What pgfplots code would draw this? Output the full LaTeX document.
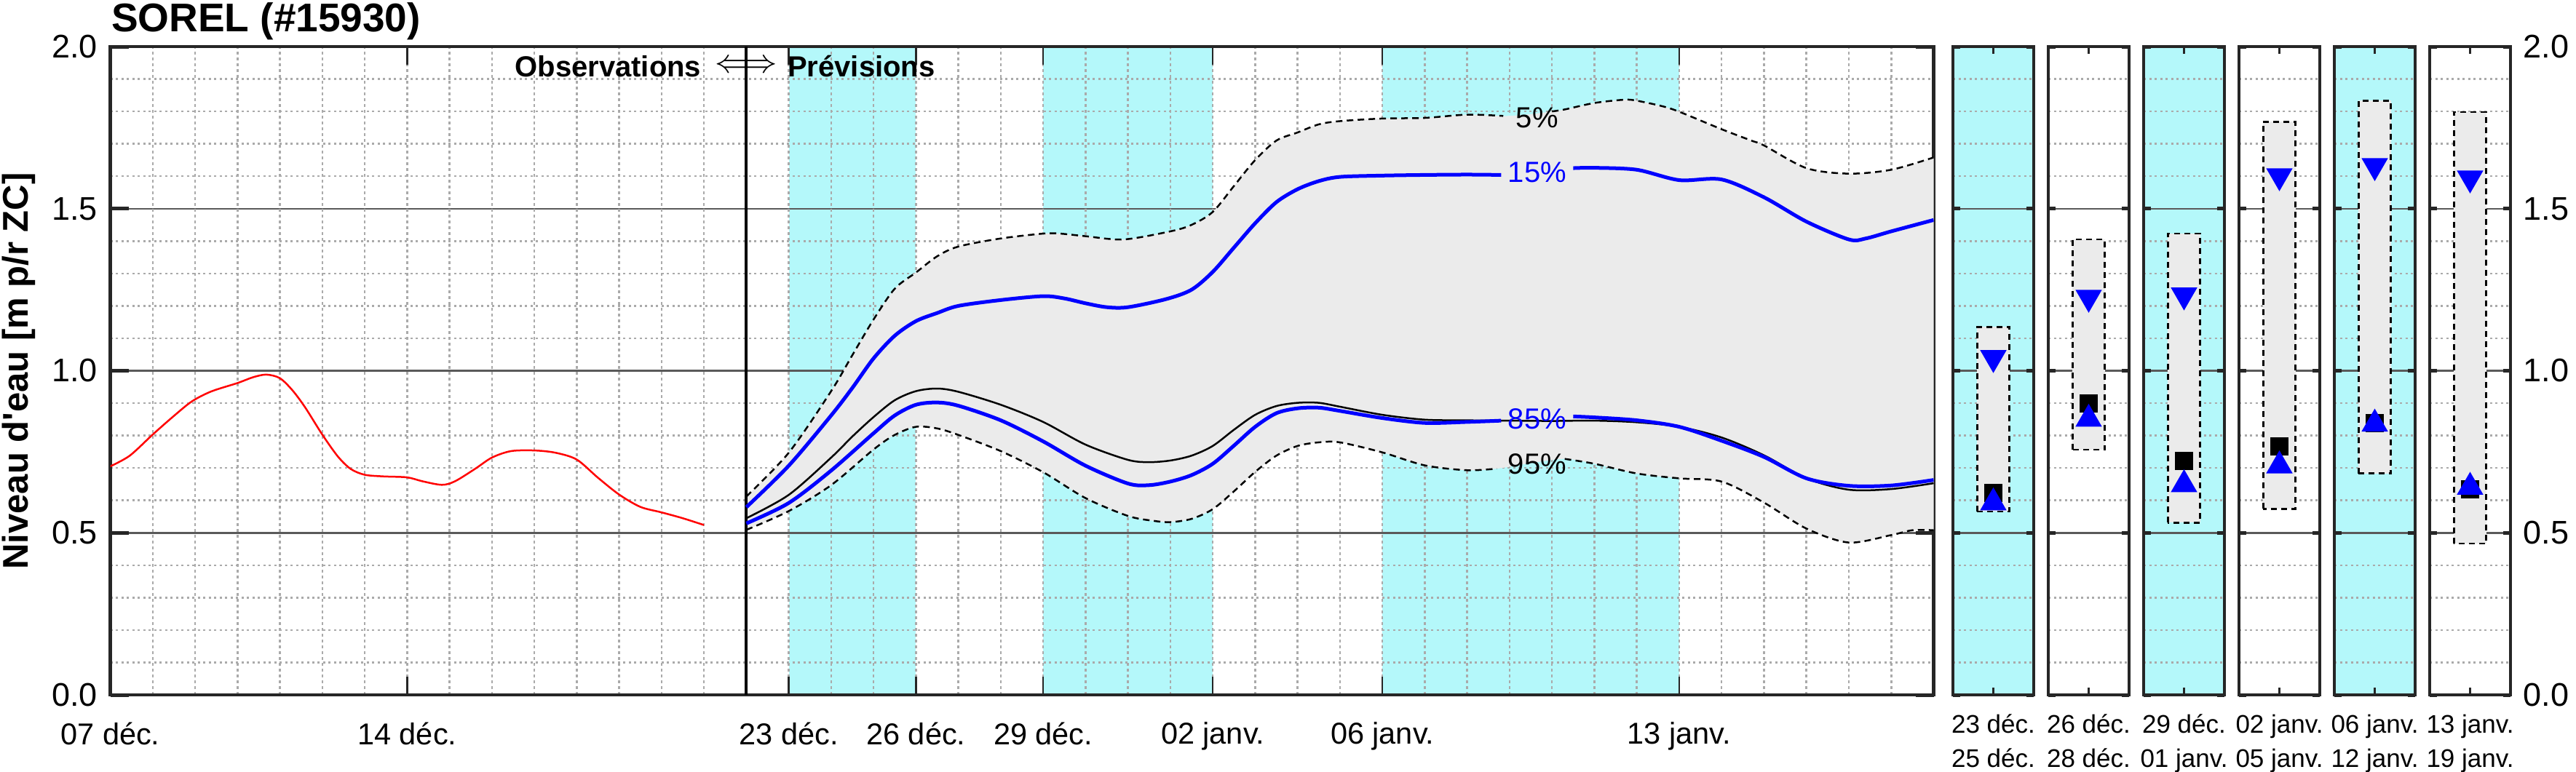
\documentclass[border=0pt]{standalone}
\usepackage{fontspec}
\setmainfont{Liberation Sans}
\newfontfamily\lsans{Liberation Sans}
\usepackage{pgfplots}
\pgfplotsset{compat=1.18}
\usepackage{pgfplotstable}
\usepgfplotslibrary{fillbetween}

\definecolor{cyanband}{RGB}{180,248,250}
\definecolor{bandgray}{RGB}{235,235,235}
\definecolor{framec}{RGB}{38,38,38}
\definecolor{gridc}{RGB}{170,170,170}
\definecolor{majgrid}{RGB}{90,90,90}
\definecolor{qblue}{RGB}{0,0,255}
\definecolor{obsred}{RGB}{255,0,0}

\pgfplotstableread{
d v
0 0.705
0.46 0.738
1 0.803
1.46 0.856
1.92 0.905
2.38 0.936
3 0.962
3.37 0.980
3.68 0.988
4 0.977
4.3 0.939
4.6 0.886
5 0.803
5.37 0.735
5.67 0.697
6 0.679
6.44 0.674
7 0.671
7.36 0.659
7.82 0.648
8.13 0.659
8.6 0.697
9 0.732
9.45 0.752
10 0.754
10.5 0.747
11 0.726
11.5 0.670
12 0.618
12.5 0.580
13 0.563
13.5 0.545
14 0.524
}\obs

\pgfplotstableread{
d v
15 0.612
16 0.747
17 0.937
17.5 1.048
18 1.158
18.5 1.253
19 1.303
19.5 1.353
20 1.383
21 1.408
22 1.423
22.4 1.423
23 1.415
23.9 1.405
25 1.430
25.5 1.450
26 1.490
26.5 1.570
27 1.650
27.5 1.710
28 1.735
28.5 1.760
29 1.770
30 1.778
31 1.780
32 1.790
32.85 1.786
33.4 1.790
34 1.800
34.3 1.806
35 1.826
35.7 1.836
36 1.833
36.6 1.816
37 1.799
38 1.745
38.7 1.710
39 1.695
40 1.625
41 1.608
42 1.620
43 1.658
}\qa

\pgfplotstableread{
d v
15 0.579
16 0.707
17 0.862
17.5 0.947
18 1.038
18.5 1.108
19 1.153
19.5 1.178
20 1.200
21 1.218
22 1.230
22.5 1.223
23 1.208
23.5 1.196
24 1.196
24.9 1.221
25.5 1.250
26 1.305
26.5 1.380
27 1.455
27.5 1.520
28 1.560
28.5 1.585
29 1.598
30 1.602
31 1.604
32 1.605
32.8 1.604
33.6 1.614
34.5 1.625
35 1.626
36 1.620
37 1.588
38 1.590
39 1.535
40 1.460
41 1.405
41.4 1.408
42 1.430
43 1.465
}\qb

\pgfplotstableread{
d v
15 0.545
16 0.617
17 0.732
17.5 0.797
18 0.857
18.5 0.909
19 0.937
19.5 0.945
20 0.935
21 0.895
22 0.842
23 0.772
24 0.725
24.5 0.718
25 0.723
25.5 0.738
26 0.768
26.5 0.818
27 0.864
27.5 0.891
28 0.901
28.5 0.901
29 0.889
30 0.864
31 0.849
32 0.847
33 0.846
34 0.845
35 0.846
36 0.841
37 0.827
38 0.794
39 0.739
40 0.668
41 0.633
42 0.635
43 0.653
}\qm

\pgfplotstableread{
d v
15 0.529
16 0.592
17 0.692
18 0.807
18.5 0.862
19 0.895
19.5 0.902
20 0.892
21 0.847
22 0.782
23 0.707
24 0.652
24.5 0.647
25 0.658
25.5 0.678
26 0.713
26.5 0.769
27 0.827
27.5 0.869
28 0.884
28.5 0.886
29 0.876
30 0.854
31 0.839
32 0.842
32.8 0.846
33.6 0.852
34.5 0.859
35 0.856
36 0.847
37 0.827
38 0.784
39 0.734
40 0.668
41 0.645
42 0.646
43 0.663
}\qc

\pgfplotstableread{
d v
15 0.509
16 0.567
17 0.647
18 0.757
18.5 0.802
19 0.827
19.5 0.822
20 0.802
21 0.752
22 0.687
23 0.607
24 0.552
24.6 0.537
25 0.533
25.5 0.543
26 0.573
26.5 0.628
27 0.688
27.5 0.738
28 0.768
28.5 0.779
29 0.779
30 0.748
31 0.708
32 0.693
32.7 0.698
33.5 0.715
34.3 0.728
35 0.713
36 0.683
37 0.668
38 0.658
39 0.593
40 0.513
41 0.470
42 0.493
42.5 0.508
43 0.508
}\qd

\pgfplotstableread{
d v
1 2
2 2
3 2
4 2
5 2
6 2
7 2
8 2
9 2
10 2
11 2
12 2
13 2
14 2
15 2
16 2
17 2
18 2
19 2
20 2
21 2
22 2
23 2
24 2
25 2
26 2
27 2
28 2
29 2
30 2
31 2
32 2
33 2
34 2
35 2
36 2
37 2
38 2
39 2
40 2
41 2
42 2
}\days

\pgfplotsset{
  wl/.style={
    scale only axis, set layers,
    ymin=0, ymax=2,
    ytick={0,0.5,1,1.5,2},
    minor ytick={0.1,0.2,0.3,0.4,0.6,0.7,0.8,0.9,1.1,1.2,1.3,1.4,1.6,1.7,1.8,1.9},
    ymajorgrids, yminorgrids,
    major grid style={majgrid, line width=0.5pt},
    minor grid style={gridc, line width=0.5pt, dash pattern=on 0.6pt off 0.9pt},
    axis line style={framec, line width=0.9pt},
    tick align=inside,
    xtick pos=both, ytick pos=both,
    minor tick length=0pt,
    ytick style={framec, line width=1pt},
    xtick style={framec, line width=0.5pt},
  },
  dashq/.style={black, line width=0.5pt, dash pattern=on 1.8pt off 1.2pt, smooth},
  blueq/.style={qblue, line width=1pt, smooth},
}

\newcommand{\panel}[9]{%
\begin{axis}[wl, at={(#1,21pt)}, anchor=south west,
  width=22.2pt, height=178.2pt,
  xmin=-0.5, xmax=0.5, xtick={0},
  xticklabels={{#3\\#4}},
  xticklabel style={align=center, font=\fontsize{7}{9.5}\selectfont, yshift=-1.8pt},
  major tick length=2pt,
  yticklabels={},
  #2]
\addplot[fill=bandgray, draw=black, line width=0.5pt, dash pattern=on 1.6pt off 1.2pt]
  coordinates {(-0.2,#5) (-0.2,#6) (0.2,#6) (0.2,#5)} -- cycle;
\addplot[only marks, mark=square*, mark size=2.3pt, black] coordinates {(0,#8)};
\addplot[only marks, mark=triangle*, mark size=3.8pt, qblue] coordinates {(0,#9)};
\addplot[only marks, mark=triangle*, mark size=3.8pt, qblue, mark options={rotate=180}] coordinates {(0,#7)};
\end{axis}}

\begin{document}
\begin{tikzpicture}

\begin{axis}[wl, at={(30.3pt,21pt)}, anchor=south west,
  width=501pt, height=178.2pt,
  xmin=0, xmax=43,
  xtick={0,7,16,19,22,26,30,37},
  xticklabels={07 déc.,14 déc.,23 déc.,26 déc.,29 déc.,02 janv.,06 janv.,13 janv.},
  major tick length=5pt,
  xticklabel style={font=\fontsize{8.3}{10}\selectfont, yshift=-4pt},
  yticklabels={0.0,0.5,1.0,1.5,2.0},
  yticklabel style={font=\fontsize{9}{10.8}\selectfont},
]
\addplot[fill=cyanband, draw=none, on layer=axis background] coordinates {(16,0) (16,2) (19,2) (19,0)} -- cycle;
\addplot[fill=cyanband, draw=none, on layer=axis background] coordinates {(22,0) (22,2) (26,2) (26,0)} -- cycle;
\addplot[fill=cyanband, draw=none, on layer=axis background] coordinates {(30,0) (30,2) (37,2) (37,0)} -- cycle;

\addplot[name path=up, draw=none, smooth, forget plot] table[x=d, y=v] {\qa};
\addplot[name path=lo, draw=none, smooth, forget plot] table[x=d, y=v] {\qd};
\addplot[fill=bandgray, draw=none, on layer=axis background] fill between[of=up and lo];

\addplot[ycomb, gridc, line width=0.5pt, dash pattern=on 0.9pt off 0.7pt, on layer=axis grid] table[x=d, y=v] {\days};

\addplot[black, line width=0.8pt] coordinates {(15,0) (15,2)};

\addplot[obsred, line width=0.5pt, smooth] table[x=d, y=v] {\obs};

\addplot[dashq, restrict x to domain=15:32.9] table[x=d, y=v] {\qa};
\addplot[dashq, restrict x to domain=33.9:43] table[x=d, y=v] {\qa};
\addplot[dashq, restrict x to domain=15:32.75] table[x=d, y=v] {\qd};
\addplot[dashq, restrict x to domain=34.2:43] table[x=d, y=v] {\qd};
\addplot[black, line width=0.5pt, smooth] table[x=d, y=v] {\qm};
\addplot[blueq, restrict x to domain=15:32.85] table[x=d, y=v] {\qb};
\addplot[blueq, restrict x to domain=34.4:43] table[x=d, y=v] {\qb};
\addplot[blueq, restrict x to domain=15:32.85] table[x=d, y=v] {\qc};
\addplot[blueq, restrict x to domain=34.4:43] table[x=d, y=v] {\qc};

\node[font=\fontsize{8}{9.6}\selectfont] at (axis cs:33.65,1.78) {5\%};
\node[font=\fontsize{8}{9.6}\selectfont, text=qblue] at (axis cs:33.65,1.612) {15\%};
\node[font=\fontsize{8}{9.6}\selectfont, text=qblue] at (axis cs:33.65,0.851) {85\%};
\node[font=\fontsize{8}{9.6}\selectfont] at (axis cs:33.65,0.713) {95\%};

\node[font=\fontsize{8}{9.6}\selectfont\bfseries, anchor=east, inner sep=0pt] at (axis cs:13.95,1.94) {Observations};
\node[inner sep=0pt, font=\fontsize{9}{10}\selectfont] at (axis cs:15,1.94) {$\Longleftrightarrow$};
\node[font=\fontsize{8}{9.6}\selectfont\bfseries, anchor=west, inner sep=0pt] at (axis cs:15.96,1.94) {Prévisions};
\end{axis}

\panel{536.6pt}{axis background/.style={fill=cyanband}}{23 déc.}{25 déc.}{0.566}{1.135}{1.040}{0.622}{0.593}
\panel{562.8pt}{}{26 déc.}{28 déc.}{0.756}{1.405}{1.226}{0.900}{0.851}
\panel{589pt}{axis background/.style={fill=cyanband}}{29 déc.}{01 janv.}{0.531}{1.423}{1.233}{0.721}{0.649}
\panel{615.2pt}{}{02 janv.}{05 janv.}{0.574}{1.768}{1.601}{0.766}{0.707}
\panel{641.4pt}{axis background/.style={fill=cyanband}}{06 janv.}{12 janv.}{0.683}{1.833}{1.632}{0.839}{0.836}
\panel{667.6pt}{yticklabels={0.0,0.5,1.0,1.5,2.0}, yticklabel pos=right, yticklabel style={font=\fontsize{9}{10.8}\selectfont}}{13 janv.}{19 janv.}{0.467}{1.798}{1.594}{0.634}{0.641}

\node[anchor=base west, inner sep=0pt, font=\fontsize{11}{13}\selectfont\bfseries] at (30.4pt,203.2pt) {SOREL (\#15930)};
\node[rotate=90, inner sep=0pt, font=\lsans\fontsize{9.8}{12}\selectfont\bfseries] at (5.2pt,110pt) {Niveau d'eau [m p/r ZC]};

\pgfresetboundingbox
\useasboundingbox (0,0) rectangle (707.8pt,212pt);
\end{tikzpicture}
\end{document}
